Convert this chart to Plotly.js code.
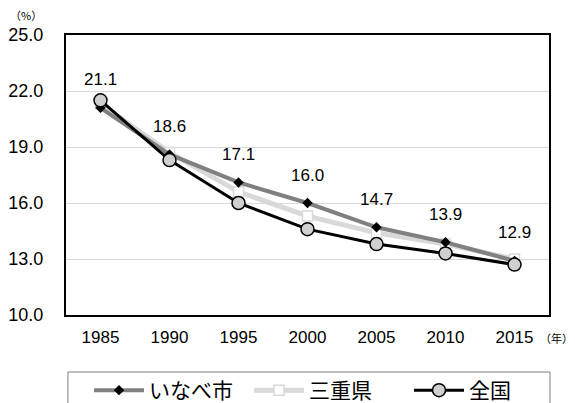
<!DOCTYPE html>
<html>
<head>
<meta charset="utf-8">
<script src="https://cdn.plot.ly/plotly-3.0.1.min.js"></script>
<style>html,body{margin:0;padding:0;background:#fff;}#chart{width:575px;height:403px;}</style>
</head>
<body>
<div id="chart"></div>
<script>
const years = ['1985','1990','1995','2000','2005','2010','2015'];
const inabe = [21.1, 18.6, 17.1, 16.0, 14.7, 13.9, 12.9];
const mie = [21.3, 18.7, 16.6, 15.3, 14.4, 13.8, 13.0];
const zenkoku = [21.5, 18.3, 16.0, 14.6, 13.8, 13.3, 12.7];
const seriesNames = ['いなべ市', '三重県', '全国'];
const yTicks = [10, 13, 16, 19, 22, 25];

const numFont = 'Liberation Sans, Arial, sans-serif';
const jpFont = 'Noto Sans CJK JP, sans-serif';

const traces = [
  {
    x: years, y: mie, name: seriesNames[1], mode: 'lines+markers', legendrank: 2,
    line: {color: '#d9d9d9', width: 5},
    marker: {symbol: 'square', size: 10, color: '#ffffff', line: {color: '#d9d9d9', width: 1.5}}
  },
  {
    x: years, y: inabe, name: seriesNames[0], mode: 'lines+markers', legendrank: 1,
    line: {color: '#808080', width: 4},
    marker: {symbol: 'diamond', size: 8, color: '#000000'}
  },
  {
    x: years, y: zenkoku, name: seriesNames[2], mode: 'lines+markers', legendrank: 3,
    line: {color: '#000000', width: 3},
    marker: {symbol: 'circle', size: 13, color: '#d0d0d0', line: {color: '#000000', width: 1.5}}
  }
];

const annotations = years.map((yr, i) => ({
  x: i, y: inabe[i], xref: 'x', yref: 'y', text: inabe[i].toFixed(1),
  showarrow: false, yshift: 28, font: {family: numFont, size: 17, color: '#000'}
}));
annotations.push({
  xref: 'paper', yref: 'paper', x: 1.0145, y: -0.082, xanchor: 'center', yanchor: 'middle',
  text: '（年）', showarrow: false, font: {family: jpFont, size: 11, color: '#000'}
});
annotations.push({
  xref: 'paper', yref: 'paper', x: -0.0828, y: 1.0714, xanchor: 'center', yanchor: 'middle',
  text: '（%）', showarrow: false, font: {family: jpFont, size: 11, color: '#000'}
});

const shapes = [{
  type: 'rect', xref: 'paper', yref: 'paper',
  x0: 0.004, x1: 1.002, y0: -0.2036, y1: -0.45,
  line: {color: '#808080', width: 1}, fillcolor: 'rgba(0,0,0,0)'
}];

const layout = {
  width: 575, height: 403,
  margin: {l: 66, r: 26, t: 35, b: 88},
  paper_bgcolor: '#fff', plot_bgcolor: '#fff',
  showlegend: true,
  legend: {
    orientation: 'h', xref: 'container', yref: 'container',
    x: 89 / 575, xanchor: 'left', y: (403 - 370) / 403, yanchor: 'top',
    borderwidth: 0, bgcolor: 'rgba(0,0,0,0)',
    itemwidth: 50, entrywidth: 95,
    font: {family: jpFont, size: 21, color: '#000'},
    traceorder: 'normal'
  },
  xaxis: {
    type: 'category', range: [-0.5, 6.5],
    showline: true, linecolor: '#000', linewidth: 2, mirror: true,
    showgrid: false, ticks: '', ticklabelstandoff: 6,
    tickfont: {family: numFont, size: 17, color: '#000'}
  },
  yaxis: {
    range: [10, 25], tickvals: yTicks, tickformat: '.1f',
    showline: true, linecolor: '#000', linewidth: 2, mirror: true,
    showgrid: true, gridcolor: '#d9d9d9', gridwidth: 1, ticks: '', ticklabelstandoff: 17,
    zeroline: false,
    tickfont: {family: numFont, size: 18, color: '#000'}
  },
  shapes: shapes,
  annotations: annotations
};

Plotly.newPlot('chart', traces, layout, {displayModeBar: false, staticPlot: true});
</script>
</body>
</html>
